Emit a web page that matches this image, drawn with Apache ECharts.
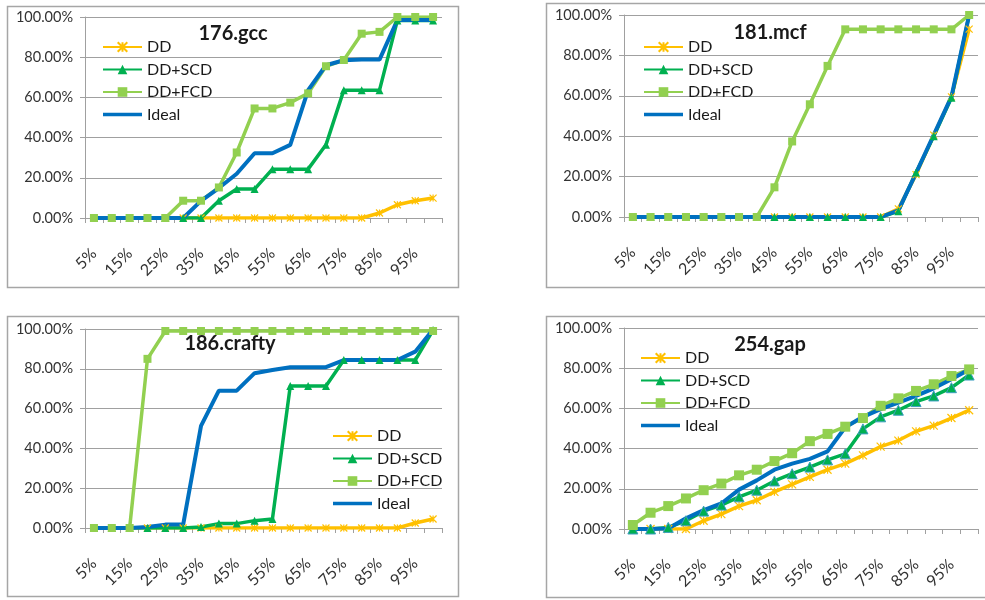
<!DOCTYPE html>
<html>
<head>
<meta charset="utf-8">
<script src="https://cdn.jsdelivr.net/npm/echarts@6/dist/echarts.min.js"></script>
<style>
  html, body { margin: 0; padding: 0; background: #fff; }
  #chart { width: 985px; height: 600px; }
</style>
</head>
<body>
<div id="chart"></div>
<script>
// Sampling points (percent of run)
const categories = ['5%','10%','15%','20%','25%','30%','35%','40%','45%','50%',
                    '55%','60%','65%','70%','75%','80%','85%','90%','95%','100%'];
const seriesNames = ['DD', 'DD+SCD', 'DD+FCD', 'Ideal'];
const yTicks = [0, 20, 40, 60, 80, 100];

// 176.gcc
const gccTitle = '176.gcc';
const gccDD    = [0,0,0,0,0,0,0,0,0,0,0,0,0,0,0,0,2.5,6.6,8.6,9.9];
const gccSCD   = [0,0,0,0,0,0,0,8.6,14.4,14.4,24.3,24.3,24.3,36.4,63.6,63.6,63.6,98.3,98.3,98.3];
const gccFCD   = [0,0,0,0,0,8.6,8.6,15.2,32.6,54.5,54.5,57.4,62,75.5,78.6,91.7,92.6,100,100,100];
const gccIdeal = [0,0,0,0,0,0,8.5,14.9,22,32.2,32.2,36.4,63.6,76,78.5,78.8,78.8,98.5,98.5,98.5];

// 181.mcf
const mcfTitle = '181.mcf';
const mcfDD    = [0,0,0,0,0,0,0,0,0,0,0,0,0,0,0,4,21,40.5,59.5,93];
const mcfSCD   = [0,0,0,0,0,0,0,0,0,0,0,0,0,0,0,2.8,22,40,59,100];
const mcfFCD   = [0,0,0,0,0,0,0,0,14.7,37.4,55.8,74.8,92.9,92.9,92.9,92.9,92.9,92.9,92.9,100];
const mcfIdeal = [0,0,0,0,0,0,0,0,0,0,0,0,0,0,0,3.3,21.7,40.7,59.6,100];

// 186.crafty
const craftyTitle = '186.crafty';
const craftyDD    = [0,0,0,0,0,0,0,0,0,0,0,0,0,0,0,0,0,0,2.5,4.5];
const craftySCD   = [0,0,0,0,0,0,0.5,2.2,2.2,3.7,4.5,71.4,71.4,71.4,84.4,84.4,84.4,84.4,84.4,99.5];
const craftyFCD   = [0,0,0,85,99,99,99,99,99,99,99,99,99,99,99,99,99,99,99,99];
const craftyIdeal = [0,0,0,0.5,1.7,1.7,51.3,69,69,77.8,79.4,80.8,80.8,80.8,84.4,84.4,84.4,84.4,88.6,99.8];

// 254.gap
const gapTitle = '254.gap';
const gapDD    = [0,0,0,0,4.1,7.4,11.4,14.3,18.5,22.2,25.9,29.5,32.5,36.6,41,44,48.6,51.4,55.2,59.1];
const gapSCD   = [0,0,0.8,4.1,8.9,11.9,16,19.3,23.9,27.5,30.8,34.4,37.4,49.8,55.8,59.1,63.4,66.2,70.3,76.6];
const gapFCD   = [2,8.1,11.4,15.2,19.3,22.6,26.7,29.5,33.8,37.7,43.7,47.3,50.9,55.2,61.3,65,68.7,72,76.1,79.4];
const gapIdeal = [0,0,0.3,5.3,9.4,12.7,19.6,24.2,29.5,32.5,34.9,38.6,50.6,55.8,59.6,62.9,66.2,70,74.5,79.4];

const FONT = 'Lato, "Open Sans", "Liberation Sans", sans-serif';
const COLORS = { DD: '#FFC000', SCD: '#00B050', FCD: '#92D050', Ideal: '#0070C0' };
const AXIS_GRAY = '#a0a0a0';
const ASTERISK = 'path://M0,0L10,10M10,0L0,10M5,0L5,10';
// plain bar legend key for the marker-less series (degenerate corner points keep the box size)
const LINE_KEY = 'path://M0,0L0,0M0,4.2H39V7.8H0ZM39,12L39,12';

// Panel layout: frame, plot area, title anchor, legend anchor
const panels = [
  { title: gccTitle, data: [gccDD, gccSCD, gccFCD, gccIdeal],
    frame: [7, 6, 451, 281], grid: [85, 17, 357, 201],
    titlePos: [233, 34], legendPos: [97, 34], big: false },
  { title: mcfTitle, data: [mcfDD, mcfSCD, mcfFCD, mcfIdeal],
    frame: [546, 3, 460, 284], grid: [624, 15, 354, 202],
    titlePos: [770, 33], legendPos: [638, 34], big: false },
  { title: craftyTitle, data: [craftyDD, craftySCD, craftyFCD, craftyIdeal],
    frame: [7, 316, 451, 280], grid: [85, 329, 357, 199],
    titlePos: [230, 344], legendPos: [327, 423], big: false },
  { title: gapTitle, data: [gapDD, gapSCD, gapFCD, gapIdeal],
    frame: [546, 316, 460, 281], grid: [624, 328, 354, 201],
    titlePos: [770, 345], legendPos: [635, 345], big: true }
];

const option = {
  animation: false,
  textStyle: { fontFamily: FONT },
  grid: [], xAxis: [], yAxis: [], legend: [], series: [], graphic: []
};

panels.forEach((p, i) => {
  option.graphic.push({
    type: 'rect', silent: true, z: -10,
    shape: { x: p.frame[0] + 0.5, y: p.frame[1] + 0.5, width: p.frame[2], height: p.frame[3] },
    style: { fill: '#fff', stroke: '#a6a6a6', lineWidth: 1.5 }
  });
  option.graphic.push({
    type: 'text', silent: true, z: 10,
    x: p.titlePos[0], y: p.titlePos[1],
    style: {
      text: p.title, fill: '#1a1a1a',
      fontSize: 20, fontWeight: 'bold', fontFamily: FONT,
      align: 'center', verticalAlign: 'middle',
      textAlign: 'center', textVerticalAlign: 'middle'
    }
  });

  option.grid.push({
    left: p.grid[0], top: p.grid[1], width: p.grid[2], height: p.grid[3],
    containLabel: false
  });

  option.xAxis.push({
    type: 'category', gridIndex: i, data: categories, boundaryGap: true,
    axisLine: { show: true, lineStyle: { color: AXIS_GRAY, width: 1 } },
    axisTick: { show: true, interval: 0, length: 5, lineStyle: { color: AXIS_GRAY } },
    axisLabel: {
      interval: 1, rotate: 45, margin: 33,
      color: '#333', fontSize: 16, fontFamily: FONT
    },
    splitLine: { show: false }
  });

  option.yAxis.push({
    type: 'value', gridIndex: i, min: yTicks[0], max: yTicks[yTicks.length - 1],
    interval: yTicks[1] - yTicks[0],
    axisLine: { show: true, lineStyle: { color: AXIS_GRAY, width: 1 } },
    axisTick: { show: true, length: 5, lineStyle: { color: AXIS_GRAY } },
    axisLabel: {
      margin: 12, color: '#333', fontSize: 14.5, fontFamily: FONT,
      formatter: v => v.toFixed(2) + '%'
    },
    splitLine: { show: true, lineStyle: { color: AXIS_GRAY, width: 1 } }
  });

  const triBorder = p.big ? '#3d9dc0' : COLORS.SCD;
  option.legend.push({
    orient: 'vertical', left: p.legendPos[0], top: p.legendPos[1],
    itemWidth: 39, itemHeight: 12, itemGap: 6.5,
    textStyle: { fontSize: 16, fontFamily: FONT, color: '#1a1a1a', lineHeight: 16 },
    data: [
      { name: 'DD' },
      { name: 'DD+SCD', itemStyle: { borderColor: triBorder } },
      { name: 'DD+FCD' },
      { name: 'Ideal', icon: LINE_KEY, itemStyle: { color: COLORS.Ideal } }
    ]
  });

  const common = { xAxisIndex: i, yAxisIndex: i, type: 'line', showSymbol: true };
  option.series.push(Object.assign({}, common, {
    name: seriesNames[0], data: p.data[0],
    symbol: ASTERISK, symbolSize: p.big ? 8 : 7,
    lineStyle: { color: COLORS.DD, width: 3.5 },
    itemStyle: { color: COLORS.DD, borderColor: COLORS.DD, borderWidth: 1.2 }
  }));
  option.series.push(Object.assign({}, common, {
    name: seriesNames[1], data: p.data[1],
    symbol: 'triangle', symbolSize: p.big ? 10 : 8,
    lineStyle: { color: COLORS.SCD, width: 3.5 },
    itemStyle: { color: COLORS.SCD, borderColor: triBorder, borderWidth: p.big ? 1 : 0 }
  }));
  option.series.push(Object.assign({}, common, {
    name: seriesNames[2], data: p.data[2],
    symbol: 'rect', symbolSize: p.big ? 10 : 8,
    lineStyle: { color: COLORS.FCD, width: 3.5 },
    itemStyle: { color: COLORS.FCD }
  }));
  option.series.push(Object.assign({}, common, {
    name: seriesNames[3], data: p.data[3],
    symbol: 'none',
    lineStyle: { color: COLORS.Ideal, width: 4 },
    itemStyle: { color: COLORS.Ideal }
  }));
});

const chart = echarts.init(document.getElementById('chart'), null, { renderer: 'canvas' });
chart.setOption(option);
</script>
</body>
</html>
